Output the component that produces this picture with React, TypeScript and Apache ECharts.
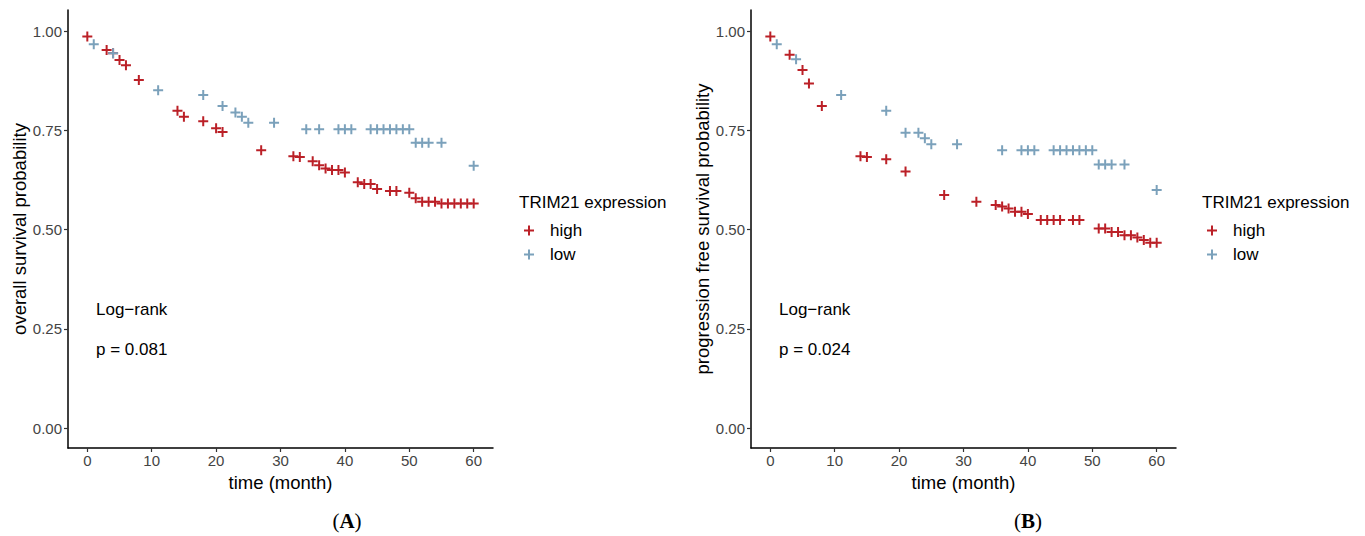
import React, { useEffect, useRef } from "react";
import * as echarts from "echarts";

// ---------- data ----------
const xTicks = [0, 10, 20, 30, 40, 50, 60];
const yTicks = [0, 0.25, 0.5, 0.75, 1.0];
const groupNames = ["high", "low"];
const legendTitle = "TRIM21 expression";

// Panel A: overall survival (censor marks)
const osHighTime = [0, 3, 4, 5, 6, 8, 14, 15, 18, 20, 21, 27, 32, 33, 35, 36, 37, 38, 39, 40, 42, 43, 44, 45, 47, 48, 50, 51, 52, 53, 54, 55, 56, 57, 58, 59, 60];
const osHighSurv = [0.986, 0.952, 0.944, 0.927, 0.914, 0.877, 0.799, 0.784, 0.773, 0.755, 0.746, 0.700, 0.685, 0.683, 0.672, 0.662, 0.654, 0.650, 0.650, 0.644, 0.619, 0.615, 0.615, 0.602, 0.597, 0.597, 0.593, 0.579, 0.570, 0.570, 0.570, 0.566, 0.566, 0.566, 0.566, 0.566, 0.566];
const osLowTime = [1, 4, 11, 18, 21, 23, 24, 25, 29, 34, 36, 39, 40, 41, 44, 45, 46, 47, 48, 49, 50, 51, 52, 53, 55, 60];
const osLowSurv = [0.967, 0.944, 0.851, 0.839, 0.811, 0.795, 0.784, 0.769, 0.769, 0.753, 0.753, 0.753, 0.753, 0.753, 0.753, 0.753, 0.753, 0.753, 0.753, 0.753, 0.753, 0.719, 0.719, 0.719, 0.719, 0.661];

// Panel B: progression free survival (censor marks)
const pfsHighTime = [0, 3, 5, 6, 8, 14, 15, 18, 21, 27, 32, 35, 36, 37, 38, 39, 40, 42, 43, 44, 45, 47, 48, 51, 52, 53, 54, 55, 56, 57, 58, 59, 60];
const pfsHighSurv = [0.986, 0.940, 0.902, 0.868, 0.811, 0.685, 0.683, 0.677, 0.646, 0.587, 0.570, 0.562, 0.558, 0.553, 0.545, 0.545, 0.539, 0.524, 0.524, 0.524, 0.524, 0.524, 0.524, 0.503, 0.503, 0.494, 0.494, 0.486, 0.486, 0.480, 0.474, 0.467, 0.467];
const pfsLowTime = [1, 4, 11, 18, 21, 23, 24, 25, 29, 36, 39, 40, 41, 44, 45, 46, 47, 48, 49, 50, 51, 52, 53, 55, 60];
const pfsLowSurv = [0.967, 0.929, 0.839, 0.799, 0.744, 0.744, 0.730, 0.715, 0.715, 0.700, 0.700, 0.700, 0.700, 0.700, 0.700, 0.700, 0.700, 0.700, 0.700, 0.700, 0.664, 0.664, 0.664, 0.664, 0.600];

const panelYNames = ["overall survival probability", "progression free survival probability"];
const panelPValues = ["p = 0.081", "p = 0.024"];
const panelLabels = ["A", "B"];
const xName = "time (month)";
const testName = "Log\u2212rank";

// ---------- style ----------
const RED = "#BB2027";
const BLUE = "#7BA1BB";
const PLUS = "path://M4,0H6V4H10V6H6V10H4V6H0V4H4Z";
const FONT = "Liberation Sans, Arial, sans-serif";

const pairs = (t: number[], s: number[]) => t.map((v, i) => [v, s[i]]);

export default function App() {
  const ref = useRef<HTMLDivElement>(null);
  useEffect(() => {
    if (!ref.current) return;
    const chart = echarts.init(ref.current, null, { renderer: "svg" });

    const gridLefts = [68, 751];
    const grids = gridLefts.map((l) => ({ left: l, top: 10, width: 425, height: 438 }));

    const xAxes = gridLefts.map((_, i) => ({
      type: "value",
      gridIndex: i,
      min: -3,
      max: 63,
      name: xName,
      nameLocation: "middle",
      nameGap: 24,
      nameTextStyle: { fontFamily: FONT, fontSize: 18.5, color: "#000" },
      axisLine: { show: true, onZero: false, lineStyle: { color: "#000", width: 1.5 } },
      axisTick: { show: true, length: 4, customValues: xTicks, lineStyle: { color: "#333", width: 1.2 } },
      axisLabel: { customValues: xTicks, fontFamily: FONT, fontSize: 15, color: "#444", margin: 5 },
      splitLine: { show: false },
    }));

    const yAxes = gridLefts.map((_, i) => ({
      type: "value",
      gridIndex: i,
      min: -0.05,
      max: 1.053,
      name: panelYNames[i],
      nameLocation: "middle",
      nameGap: 38,
      nameTextStyle: { fontFamily: FONT, fontSize: 18.5, color: "#000" },
      axisLine: { show: true, onZero: false, lineStyle: { color: "#000", width: 1.5 } },
      axisTick: { show: true, length: 4, customValues: yTicks, lineStyle: { color: "#333", width: 1.2 } },
      axisLabel: {
        customValues: yTicks,
        fontFamily: FONT,
        fontSize: 15,
        color: "#444",
        margin: 6,
        formatter: (v: number) => v.toFixed(2),
      },
      splitLine: { show: false },
    }));

    const mk = (name: string, color: string, data: number[][], idx: number) => ({
      type: "scatter",
      name,
      xAxisIndex: idx,
      yAxisIndex: idx,
      data,
      symbol: PLUS,
      symbolSize: 10,
      itemStyle: { color, opacity: 1 },
      emphasis: { disabled: true },
    });

    const series = [
      mk(groupNames[0], RED, pairs(osHighTime, osHighSurv), 0),
      mk(groupNames[1], BLUE, pairs(osLowTime, osLowSurv), 0),
      mk(groupNames[0], RED, pairs(pfsHighTime, pfsHighSurv), 1),
      mk(groupNames[1], BLUE, pairs(pfsLowTime, pfsLowSurv), 1),
    ];

    const legendIconCenters = [529, 1212];
    const legends = legendIconCenters.map((c) => ({
      orient: "vertical",
      left: c - 5,
      top: 222,
      padding: 0,
      data: groupNames.map((n) => ({ name: n, icon: PLUS })),
      itemWidth: 10,
      itemHeight: 10,
      itemGap: 7,
      selectedMode: false,
      textStyle: { fontFamily: FONT, fontSize: 17, color: "#000", padding: [0, 0, 0, 11] },
    }));

    const titleLefts = [519, 1202];
    const annLefts = [96, 779];
    const graphic: any[] = [];
    [0, 1].forEach((i) => {
      graphic.push({
        type: "text",
        left: titleLefts[i],
        top: 194,
        style: { text: legendTitle, font: `17px ${FONT}`, fill: "#000" },
      });
      graphic.push({
        type: "text",
        left: annLefts[i],
        top: 301,
        style: { text: testName, font: `17px ${FONT}`, fill: "#000" },
      });
      graphic.push({
        type: "text",
        left: annLefts[i],
        top: 341,
        style: { text: panelPValues[i], font: `17px ${FONT}`, fill: "#000" },
      });
    });
    const labelCenters = [347, 1028];
    labelCenters.forEach((c, i) => {
      graphic.push({
        type: "text",
        x: c,
        y: 521,
        style: {
          text: `{p|(}{b|${panelLabels[i]}}{p|)}`,
          align: "center",
          verticalAlign: "middle",
          rich: {
            p: { fontFamily: "Liberation Serif, DejaVu Serif, serif", fontSize: 21, color: "#000" },
            b: { fontFamily: "Liberation Serif, DejaVu Serif, serif", fontSize: 21, fontWeight: "bold", color: "#000" },
          },
        },
      });
    });

    chart.setOption({
      animation: false,
      backgroundColor: "#fff",
      grid: grids,
      xAxis: xAxes,
      yAxis: yAxes,
      legend: legends,
      series,
      graphic,
    });
    return () => chart.dispose();
  }, []);

  return (
    <div
      ref={ref}
      style={{ position: "absolute", left: 0, top: 0, width: 1365, height: 536 }}
    />
  );
}
